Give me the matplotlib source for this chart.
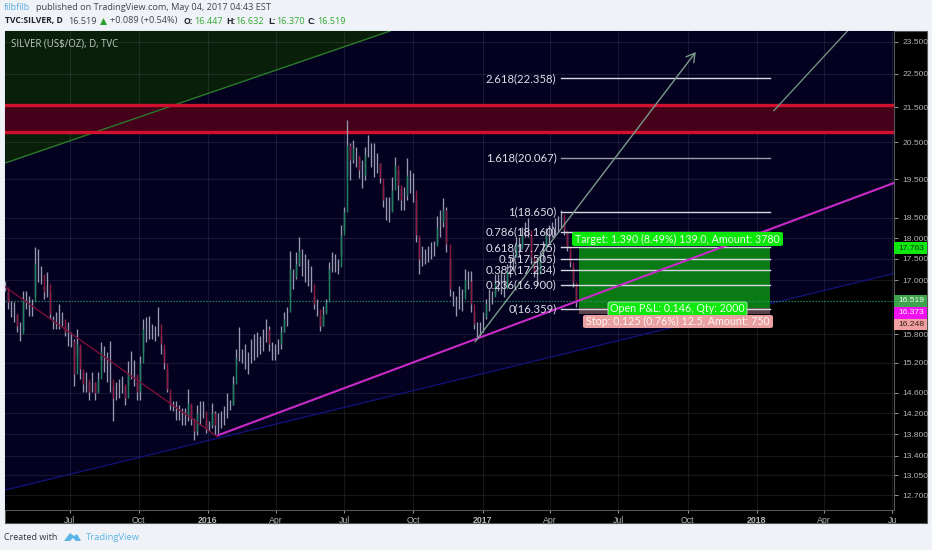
import pandas as pd
import matplotlib
matplotlib.use("Agg")
import matplotlib.pyplot as plt
import matplotlib.dates as mdates
from matplotlib.patches import Rectangle, Polygon

W, H = 932, 550

# ---- data ----
highs = [16.98,16.73,16.53,16.51,16.24,16.07,16.75,16.75,16.64,16.57,17.78,17.73,17.33,16.87,17.19,16.73,16.20,16.29,16.46,16.29,
15.98,16.07,15.85,15.70,15.92,15.56,15.02,15.02,14.82,15.02,14.82,15.02,15.64,15.56,15.43,15.66,14.74,14.82,14.88,14.94,
14.74,15.23,15.45,15.25,14.82,15.35,16.13,16.18,16.20,16.03,15.98,16.40,15.77,15.49,15.08,14.55,14.43,14.43,14.35,14.29,
14.29,14.68,14.35,14.10,14.35,14.43,14.43,14.10,14.05,14.39,14.24,14.20,14.24,14.33,14.59,14.45,14.94,15.49,15.96,15.49,
15.60,15.43,15.70,15.81,15.85,15.77,15.92,16.13,15.98,15.64,15.60,15.70,15.98,16.29,16.40,17.68,17.26,17.66,18.02,17.73,
17.61,17.49,17.33,16.64,16.57,16.20,16.42,16.57,17.42,17.66,17.61,17.49,18.33,18.79,21.13,20.48,20.56,20.37,20.09,20.01,
20.37,20.70,20.48,20.48,20.20,19.93,19.30,19.04,19.04,19.56,20.09,19.74,19.27,19.30,20.07,19.74,19.66,18.96,18.02,17.80,
17.73,17.80,17.90,17.92,18.54,18.71,19.01,18.79,17.49,16.75,16.64,16.87,16.80,17.26,17.21,17.21,16.29,16.07,16.07,16.29,
16.57,16.80,16.75,17.14,17.14,17.21,17.14,17.37,17.54,17.68,18.02,18.02,18.28,18.41,18.51,18.02,17.44,17.44,17.68,17.92,
18.26,18.33,18.41,18.51,18.54,18.71,18.51,18.16,17.68,17.30,16.85]
lows = [16.75,16.35,16.18,16.07,15.85,15.66,15.87,16.35,16.20,16.20,16.64,16.96,16.91,16.57,16.62,16.13,15.92,15.92,15.92,15.98,
15.77,15.56,15.54,14.74,15.35,14.88,14.62,14.62,14.45,14.62,14.45,14.62,15.23,15.02,14.82,14.62,14.05,14.45,14.49,14.59,
14.35,14.74,14.88,14.74,14.45,14.45,15.43,15.64,15.70,15.70,15.66,15.77,15.39,15.08,14.62,14.26,14.24,14.07,14.07,13.97,
13.97,14.05,13.97,13.69,13.78,13.97,14.10,13.82,13.86,13.91,13.78,13.78,13.91,13.97,14.10,14.26,14.35,15.14,15.23,15.19,
15.08,14.98,15.19,15.25,15.33,15.39,15.45,15.64,15.45,15.25,15.25,15.39,15.49,15.85,15.98,16.64,16.80,17.03,17.33,17.10,
16.96,16.87,16.73,16.35,16.20,15.87,15.98,16.29,17.03,17.19,17.19,17.14,17.56,18.21,19.56,19.48,19.93,19.82,19.53,19.27,
19.48,20.09,19.82,19.56,19.66,19.40,18.79,18.46,18.41,18.71,19.48,18.96,18.71,18.71,18.96,19.14,18.91,17.90,17.14,17.33,
17.37,17.42,17.49,17.56,17.90,18.04,18.28,17.66,16.64,16.42,16.20,16.35,16.31,16.73,16.80,16.29,15.92,15.70,15.77,15.85,
16.13,16.31,16.46,16.69,16.75,16.69,16.62,16.91,17.07,17.21,17.54,17.54,17.78,18.02,18.02,17.37,17.07,16.87,17.21,17.44,
17.68,17.85,18.02,18.09,18.14,18.28,18.09,17.68,17.30,16.85,16.40]
closes = [16.85,16.51,16.35,16.24,15.98,15.81,16.57,16.62,16.46,16.51,17.37,17.26,17.14,16.73,16.91,16.24,16.03,16.13,16.24,16.13,
15.85,15.81,15.66,14.98,15.60,15.08,14.78,14.88,14.62,14.82,14.59,14.88,15.45,15.29,15.08,14.88,14.49,14.62,14.68,14.78,
14.49,14.98,15.19,14.98,14.62,15.19,15.92,15.92,15.98,15.85,15.81,16.03,15.60,15.19,14.68,14.35,14.29,14.20,14.24,14.10,
14.16,14.39,14.10,13.86,14.20,14.29,14.24,13.91,13.97,14.20,13.97,13.91,14.10,14.24,14.39,14.35,14.78,15.29,15.49,15.35,
15.39,15.19,15.39,15.49,15.60,15.49,15.70,15.92,15.60,15.39,15.49,15.60,15.85,16.13,16.29,17.26,17.07,17.37,17.68,17.42,
17.26,17.14,16.91,16.46,16.35,15.98,16.24,16.51,17.26,17.44,17.42,17.30,18.09,18.66,20.42,20.01,20.34,20.15,19.74,19.61,
20.15,20.42,20.28,20.01,19.93,19.53,18.96,18.71,18.64,19.22,19.88,19.35,18.96,19.09,19.61,19.48,19.22,18.09,17.49,17.54,
17.61,17.61,17.73,17.80,18.26,18.41,18.71,17.85,16.80,16.57,16.46,16.62,16.57,17.03,16.98,16.46,16.03,15.85,15.98,16.18,
16.46,16.64,16.62,16.96,16.91,17.03,16.80,17.21,17.37,17.54,17.85,17.73,18.09,18.26,18.21,17.54,17.21,17.14,17.54,17.78,
18.09,18.16,18.26,18.33,18.41,18.59,18.21,17.78,17.42,16.96,16.519]
bar_start = "2015-04-06"
bar_step = "4D"

price_ticks = [23.5, 22.5, 21.5, 20.5, 19.5, 18.5, 18.0, 17.5, 17.0, 15.8, 15.2, 14.6, 14.2, 13.8, 13.4, 13.05, 12.7]
price_labels = ["23.500", "22.500", "21.500", "20.500", "19.500", "18.500", "18.000", "17.500", "17.000",
                "15.800", "15.200", "14.600", "14.200", "13.800", "13.400", "13.050", "12.700"]
time_ticks = ["2015-07-01", "2015-10-01", "2016-01-01", "2016-04-01", "2016-07-01", "2016-10-01", "2017-01-01",
              "2017-04-01", "2017-07-01", "2017-10-01", "2018-01-01", "2018-04-01", "2018-07-01"]
time_labels = ["Jul", "Oct", "2016", "Apr", "Jul", "Oct", "2017", "Apr", "Jul", "Oct", "2018", "Apr", "Ju"]

fib_labels = ["2.618", "1.618", "1", "0.786", "0.618", "0.5", "0.382", "0.236", "0"]
fib_levels = [22.358, 20.067, 18.650, 18.160, 17.775, 17.505, 17.234, 16.900, 16.359]

last_price = 16.519
target_price = 17.763
entry_price = 16.373
stop_price = 16.248
zone_top = 21.56
zone_bottom = 20.78

x_min, x_max = "2015-04-06", "2018-07-03"
y_min, y_max = 12.45, 23.84


def d(s):
    return mdates.date2num(pd.Timestamp(s))


def fx(x):
    return x / W


def fy(y):
    return 1 - y / H


PAGE = "#eff3f8"
fig = plt.figure(figsize=(W / 100, H / 100), dpi=100, facecolor=PAGE)

# black panel holding the scales
fig.add_artist(Rectangle((fx(5), fy(523)), 922 / W, 492 / H, transform=fig.transFigure,
                         facecolor="#000000", edgecolor="#555555", lw=0.8, zorder=-1))

ax = fig.add_axes([fx(5), fy(510), 889 / W, 479 / H])
ax.set_facecolor("#03011f")
ax.set_yscale("log")
ax.set_xlim(d(x_min), d(x_max))
ax.set_ylim(y_min, y_max)
ax.minorticks_off()
ax.yaxis.set_minor_locator(matplotlib.ticker.NullLocator())
ax.yaxis.set_minor_formatter(matplotlib.ticker.NullFormatter())
ax.yaxis.tick_right()
ax.set_yticks(price_ticks)
ax.set_yticklabels(price_labels)
ax.set_xticks([d(t) for t in time_ticks])
ax.set_xticklabels(time_labels)
for lab, txt in zip(ax.get_xticklabels(), time_labels):
    lab.set_fontweight("bold" if txt in ("2016", "2017", "2018") else "normal")
ax.tick_params(axis="y", colors="#b4b4b4", labelsize=6.1, length=3, width=0.6, pad=3)
ax.tick_params(axis="x", colors="#b4b4b4", labelsize=6.3, length=2, width=0.6, pad=2)
for lab in ax.get_xticklabels() + ax.get_yticklabels():
    lab.set_fontfamily("Liberation Sans")
for side, sp in ax.spines.items():
    sp.set_color("#555555")
    sp.set_linewidth(0.8)
ax.spines["top"].set_visible(False)
ax.spines["left"].set_visible(False)
ax.set_axisbelow(True)
ax.grid(True, color="#9a9ac0", alpha=0.14, lw=0.8)

# channel regions
xl, xr = d(x_min), d(x_max)
ax.fill_between([xl, xr], [12.79, 17.16], [y_min, y_min], color="#000000", lw=0, zorder=0.2)
ax.fill([xl, d("2016-08-31"), xl], [19.93, y_max, y_max], color="#0a1f0a", lw=0, zorder=0.2)
ax.plot([xl, xr], [12.79, 17.16], color="#12127a", lw=0.9, zorder=1)
ax.plot([xl, d("2016-08-31")], [19.93, y_max], color="#2a7a2a", lw=1.0, zorder=1)

# red resistance zone
ax.fill_between([xl, xr], [zone_bottom] * 2, [zone_top] * 2, color="#45001a", lw=0, zorder=0.6)
ax.axhline(zone_top, color="#d0102e", lw=2.4, zorder=1.2)
ax.axhline(zone_bottom, color="#d0102e", lw=2.4, zorder=1.2)

# position tool
bx0, bx1 = d("2017-05-10"), d("2018-01-19")
ax.fill_between([bx0, bx1], [entry_price] * 2, [target_price] * 2, color="#0a7a14", lw=0, zorder=1.4)
ax.fill_between([bx0, bx1], [stop_price] * 2, [entry_price] * 2, color="#5a4048", lw=0, zorder=1.4)

# last price line
ax.axhline(last_price, color="#2f9a66", lw=0.9, ls=(0, (1, 1.4)), zorder=1.6)

# candles
dates = mdates.date2num(pd.date_range(bar_start, periods=len(closes), freq=bar_step))
ax.vlines(dates, lows, highs, color="#9898b0", lw=0.95, zorder=2)
opens = [closes[0]] + closes[:-1]
for xi, o, c in zip(dates, opens, closes):
    if abs(c - o) / o > 0.015:
        ax.vlines(xi, min(o, c), max(o, c), color="#1f8060" if c > o else "#8e1a40", lw=1.05, zorder=2.2)

# down trend line, magenta support
ax.plot([xl, d("2016-01-14")], [16.85, 13.75], color="#7a1038", lw=1.0, zorder=2.4)
ax.plot([d("2016-01-15"), xr], [13.78, 19.40], color="#c82ac8", lw=1.5, zorder=3.2)

# fibonacci levels
fx0, fx1 = d("2017-04-15"), d("2018-01-19")
for lbl, lev in zip(fib_labels, fib_levels):
    col = "#9a9aa6" if lbl == "1.618" else "#d8d8e4"
    ax.plot([fx0, fx1], [lev, lev], color=col, lw=1.0, zorder=3)
    ax.annotate(f"{lbl}({lev:.3f})", (fx0, lev), xytext=(-3, 0), textcoords="offset points",
                ha="right", va="center", color="#dcdce6", fontsize=8.2, family="Lato", zorder=4)

# projection arrows
ax.annotate("", xy=(d("2017-10-12"), 23.17), xytext=(d("2016-12-22"), 15.64), zorder=3.4,
            arrowprops=dict(arrowstyle="->,head_length=0.6,head_width=0.35", color="#7b9a8c", lw=1.0,
                            shrinkA=0, shrinkB=0))
ax.plot([d("2018-01-24"), d("2018-05-02")], [21.40, y_max], color="#6f8f80", lw=1.0, zorder=3.4)

ax.text(fx(11), fy(44), "SILVER (US$/OZ), D, TVC", transform=fig.transFigure, color="#c0ccc0",
        fontsize=6.9, family="Open Sans", va="center", zorder=5)


def box_label(x0, x1, y0, y1, face, text, color="white", size=7.7, family="Lato", edge="none"):
    fig.add_artist(matplotlib.patches.FancyBboxPatch(
        (fx(x0), fy(y1)), (x1 - x0) / W, (y1 - y0) / H, transform=fig.transFigure,
        boxstyle=matplotlib.patches.BoxStyle("Round", pad=0, rounding_size=0.003),
        facecolor=face, edgecolor=edge, lw=0.6, zorder=6))
    fig.text(fx((x0 + x1) / 2), fy((y0 + y1) / 2), text, color=color, fontsize=size, family=family,
             ha="center", va="center", zorder=7)


box_label(608, 747, 302, 316, "#10e810", "Open P&L: 0.146, Qty: 2000", color="#e8ffe8", edge="#c0f0c0")
box_label(572, 783, 232, 246, "#0ae80a", "Target: 1.390 (8.49%) 139.0, Amount: 3780", color="#e8ffe8")
box_label(583, 773, 315, 328, "#e8a0a0", "Stop: 0.125 (0.76%) 12.5, Amount: 750", color="#fff4f4")


def scale_label(y0, y1, face, text, color):
    fig.add_artist(Rectangle((fx(894), fy(y1)), 33 / W, (y1 - y0) / H, transform=fig.transFigure,
                             facecolor=face, edgecolor="none", zorder=6))
    fig.text(fx(924), fy((y0 + y1) / 2), text, color=color, fontsize=6.1, family="Liberation Sans",
             ha="right", va="center", zorder=7)


scale_label(242, 254, "#10e810", f"{target_price:.3f}", "#0a3a0a")
scale_label(295, 307, "#3ea34c", f"{last_price:.3f}", "#eaffea")
scale_label(307, 318.5, "#f010f0", f"{entry_price:.3f}", "#ffeeff")
scale_label(318.5, 330, "#eea0a0", f"{stop_price:.3f}", "#3a1a1a")

# header
DARK = "#40444c"


def head(x, y, s, color=DARK, weight="normal", size=6.6):
    fig.text(fx(x), fy(y), s, color=color, fontsize=size, family="Open Sans", fontweight=weight, va="center")


head(4, 8, "filbfilb", color="#5aaee0")
head(36, 8, "published on TradingView.com, May 04, 2017 04:43 EST")
head(5, 21, "TVC:SILVER, D", color="#20242c", weight="bold", size=6.2)
head(68, 21, "16.519")
fig.add_artist(Polygon([[fx(100), fy(25)], [fx(107), fy(25)], [fx(103.5), fy(18)]], transform=fig.transFigure,
                       facecolor="#2ca02c", edgecolor="none"))
head(110, 21, "+0.089 (+0.54%)")
GREEN = "#34a834"
for x, k, xv, v in [(183, "O:", 194, "16.447"), (226, "H:", 235, "16.632"),
                    (268, "L:", 276, "16.370"), (308, "C:", 317, "16.519")]:
    head(x, 21, k, color="#20242c", weight="bold", size=6.2)
    head(xv, 21, v, color=GREEN)

# footer
head(4, 537, "Created with", color="#30343c", size=6.5)
fig.add_artist(Polygon([[fx(64), fy(541)], [fx(70), fy(533)], [fx(74), fy(536)], [fx(77), fy(534)],
                        [fx(81), fy(541)], [fx(76), fy(541)], [fx(73), fy(538)], [fx(70), fy(541)]],
                       transform=fig.transFigure, facecolor="#5ab4e6", edgecolor="none"))
head(86, 537, "TradingView", color="#5ab4e6", size=6.8)

fig.savefig("out.png", dpi=100, facecolor=PAGE)
